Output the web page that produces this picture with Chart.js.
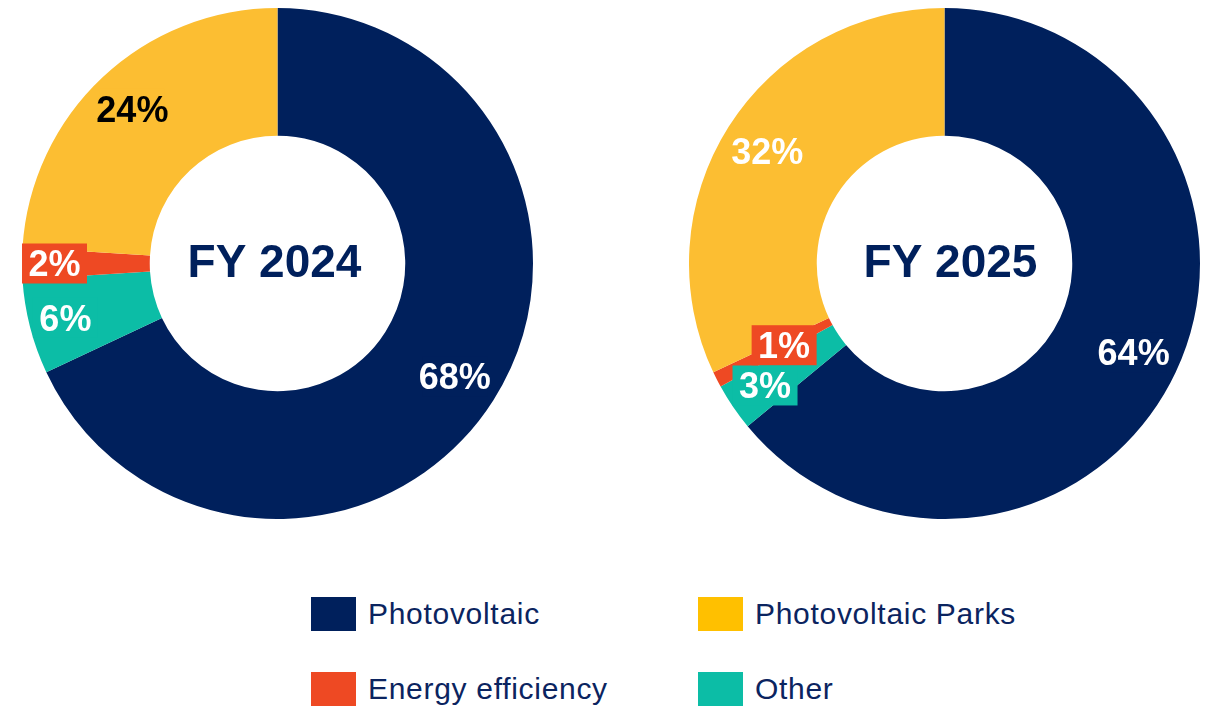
<!DOCTYPE html>
<html>
<head>
<meta charset="utf-8">
<script src="https://cdn.jsdelivr.net/npm/chart.js@4.4.1/dist/chart.umd.min.js"></script>
<style>
  html, body { margin: 0; padding: 0; background: #ffffff; }
  #wrap { position: relative; width: 1205px; height: 708px; overflow: hidden; font-family: "Liberation Sans", Arial, sans-serif; }
  .chartBox { position: absolute; top: 8px; width: 511px; height: 511px; }
  #box1 { left: 22px; }
  #box2 { left: 689px; }
  .leg { position: absolute; display: flex; align-items: center; }
  .sw { width: 45px; height: 34px; margin-right: 12px; }
  .lt { font-size: 30px; color: #0B2460; letter-spacing: 0.7px; white-space: nowrap; line-height: 34px; }
</style>
</head>
<body>
<div id="wrap">
  <div class="chartBox" id="box1"><canvas id="c1" width="511" height="511"></canvas></div>
  <div class="chartBox" id="box2"><canvas id="c2" width="511" height="511"></canvas></div>
  <div id="legend"></div>
</div>
<script>
// ---- data ----
const categories = ['Photovoltaic', 'Photovoltaic Parks', 'Energy efficiency', 'Other'];
const fy2024 = [68, 24, 2, 6];
const fy2025 = [64, 32, 1, 3];
const titles = ['FY 2024', 'FY 2025'];

// ---- style ----
const sliceColors = ['#00205C', '#FCBE32', '#EE4923', '#0CBDA6'];
const legendColors = ['#00205C', '#FFC000', '#EE4923', '#0CBDA6'];
const labelTextColors2024 = ['#FFFFFF', '#000000', '#FFFFFF', '#FFFFFF'];
const labelTextColors2025 = ['#FFFFFF', '#FFFFFF', '#FFFFFF', '#FFFFFF'];
// clockwise drawing order starting at 12 o'clock
const sliceOrder = [0, 3, 2, 1];

function reorder(arr) { return sliceOrder.map(i => arr[i]); }

const labelPlugin = {
  id: 'pctLabels',
  afterDatasetsDraw(chart, args, opts) {
    const ctx = chart.ctx;
    const meta = chart.getDatasetMeta(0);
    const ds = chart.data.datasets[0];
    ctx.save();
    meta.data.forEach((arc, i) => {
      const p = arc.getProps(['x', 'y', 'startAngle', 'endAngle'], true);
      const a = (p.startAngle + p.endAngle) / 2;
      const r = opts.radii[i];
      const cx = p.x + Math.cos(a) * r;
      const cy = p.y + Math.sin(a) * r;
      const fs = 36;
      ctx.font = 'bold ' + fs + 'px "Liberation Sans", Arial, sans-serif';
      const txt = ds.data[i] + '%';
      // background box in slice colour
      ctx.fillStyle = ds.backgroundColor[i];
      ctx.fillRect(cx - 32.5, cy - 20, 65, 40);
      ctx.fillStyle = opts.textColors[i];
      ctx.textAlign = 'center';
      ctx.textBaseline = 'alphabetic';
      ctx.fillText(txt, cx, cy + fs * 0.358);
    });
    // centre title
    ctx.font = 'bold 46px "Liberation Sans", Arial, sans-serif';
    ctx.fillStyle = '#00205C';
    ctx.textAlign = 'center';
    ctx.textBaseline = 'alphabetic';
    const c = meta.data[0];
    ctx.fillText(opts.title, c.x + opts.titleDx, c.y - 3 + 46 * 0.358);
    ctx.restore();
  }
};

function makeChart(id, values, title, radii, titleDx, textColors) {
  return new Chart(document.getElementById(id), {
    type: 'doughnut',
    data: {
      labels: reorder(categories),
      datasets: [{
        data: reorder(values),
        backgroundColor: reorder(sliceColors),
        borderWidth: 0,
        hoverOffset: 0
      }]
    },
    options: {
      responsive: false,
      animation: false,
      cutout: '50%',
      layout: { padding: 0 },
      plugins: {
        legend: { display: false },
        tooltip: { enabled: false },
        pctLabels: { radii: radii, textColors: reorder(textColors), title: title, titleDx: titleDx }
      }
    },
    plugins: [labelPlugin]
  });
}

// radii in draw order: Photovoltaic, Other, Energy efficiency, Parks
makeChart('c1', fy2024, titles[0], [210, 219, 223, 212], -3, labelTextColors2024);
makeChart('c2', fy2025, titles[1], [209, 217, 180, 210], 6, labelTextColors2025);

// ---- legend ----
const legendPos = [[311, 597], [698, 597], [311, 672], [698, 672]];
const legEl = document.getElementById('legend');
categories.forEach((name, i) => {
  const d = document.createElement('div');
  d.className = 'leg';
  d.style.left = legendPos[i][0] + 'px';
  d.style.top = legendPos[i][1] + 'px';
  d.innerHTML = '<div class="sw" style="background:' + legendColors[i] + '"></div><div class="lt">' + name + '</div>';
  legEl.appendChild(d);
});
</script>
</body>
</html>
